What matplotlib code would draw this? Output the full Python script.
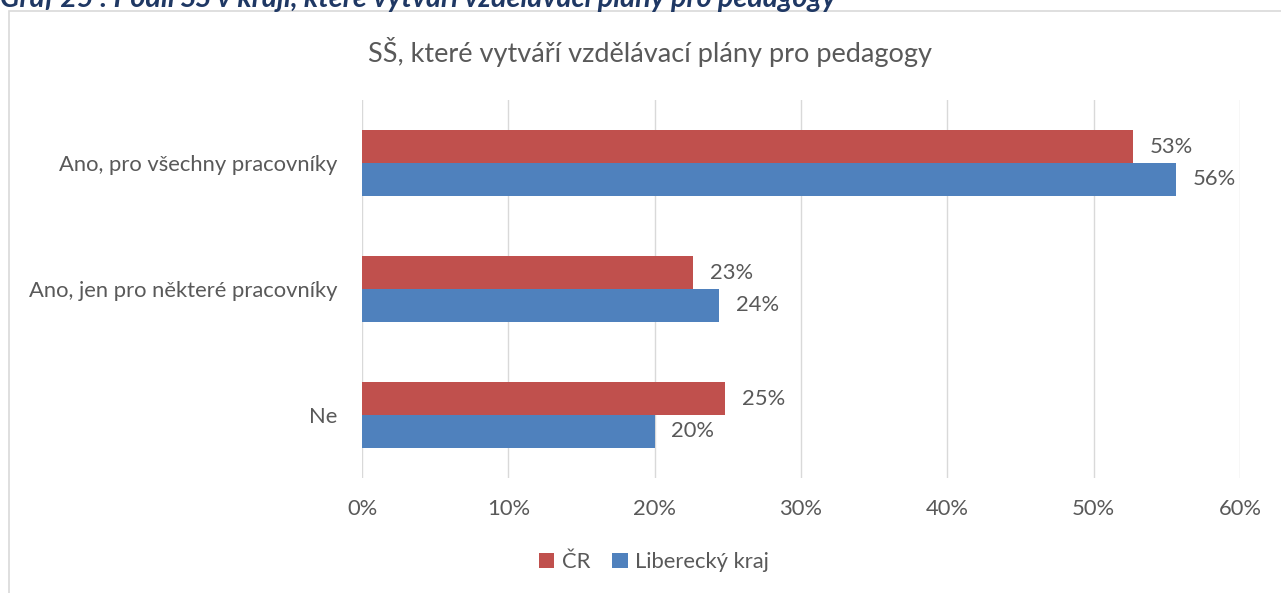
import numpy as np
import matplotlib
matplotlib.use("Agg")
import matplotlib.pyplot as plt
from matplotlib.patches import Rectangle

# data
kategorie = ["Ano, pro všechny pracovníky", "Ano, jen pro některé pracovníky", "Ne"]
cr = [52.7, 22.6, 24.8]
liberecky = [55.6, 24.4, 20.0]
xticks = [0, 10, 20, 30, 40, 50, 60]

CERVENA = "#C0504D"
MODRA = "#4F81BD"
SEDA = "#595959"
FS = 15.8

plt.rcParams["font.family"] = ["Lato", "DejaVu Sans"]

W, H = 1281, 593
fig = plt.figure(figsize=(W / 100, H / 100), dpi=100)

# rámeček grafu
fig.patches.append(Rectangle((9 / W, -0.01), (W - 8) / W, 1 - 11 / H + 0.01,
                             transform=fig.transFigure, fill=False,
                             edgecolor="#D9D9D9", linewidth=1.2))

# oříznutý nadpis nahoře (v předloze je useknutý)
fig.text(0.0, 1 - 7 / H, "Graf 25 : Podíl SŠ v kraji, které vytváří vzdělávací plány pro pedagogy",
         ha="left", va="baseline", fontsize=20.7, fontweight="bold", fontstyle="italic",
         color="#1F3864")

ax = fig.add_axes([362 / W, 115 / H, (1240 - 362) / W, (478 - 100) / H])

y = np.arange(len(kategorie))
h = 0.26
ax.barh(y - h / 2, cr, height=h, color=CERVENA, label="ČR")
ax.barh(y + h / 2, liberecky, height=h, color=MODRA, label="Liberecký kraj")

for yi, v in zip(y, cr):
    ax.text(v + 1.15, yi - h / 2, f"{v:.0f}%", va="center", ha="left", fontsize=FS, color=SEDA)
for yi, v in zip(y, liberecky):
    ax.text(v + 1.15, yi + h / 2, f"{v:.0f}%", va="center", ha="left", fontsize=FS, color=SEDA)

ax.set_ylim(2.5, -0.5)
ax.set_xlim(0, 60)
ax.set_yticks(y)
ax.set_yticklabels(kategorie, fontsize=FS, color=SEDA)
ax.set_xticks(xticks)
ax.set_xticklabels([f"{t}%" for t in xticks], fontsize=FS, color=SEDA)
ax.tick_params(length=0)
ax.tick_params(axis="x", pad=15)
ax.tick_params(axis="y", pad=17.5)
ax.grid(axis="x", color="#D9D9D9", linewidth=1)
ax.set_axisbelow(True)
for s in ax.spines.values():
    s.set_visible(False)

fig.text(650 / W, 1 - 52 / H, "SŠ, které vytváří vzdělávací plány pro pedagogy",
         ha="center", va="center", fontsize=19.5, color=SEDA)

fig.legend(loc="center", bbox_to_anchor=(654 / W, 1 - 562 / H), ncol=2, frameon=False,
           fontsize=FS, labelcolor=SEDA, handlelength=0.7, handleheight=0.7,
           handletextpad=0.35, columnspacing=1.0)

fig.savefig("out.png", dpi=100)
